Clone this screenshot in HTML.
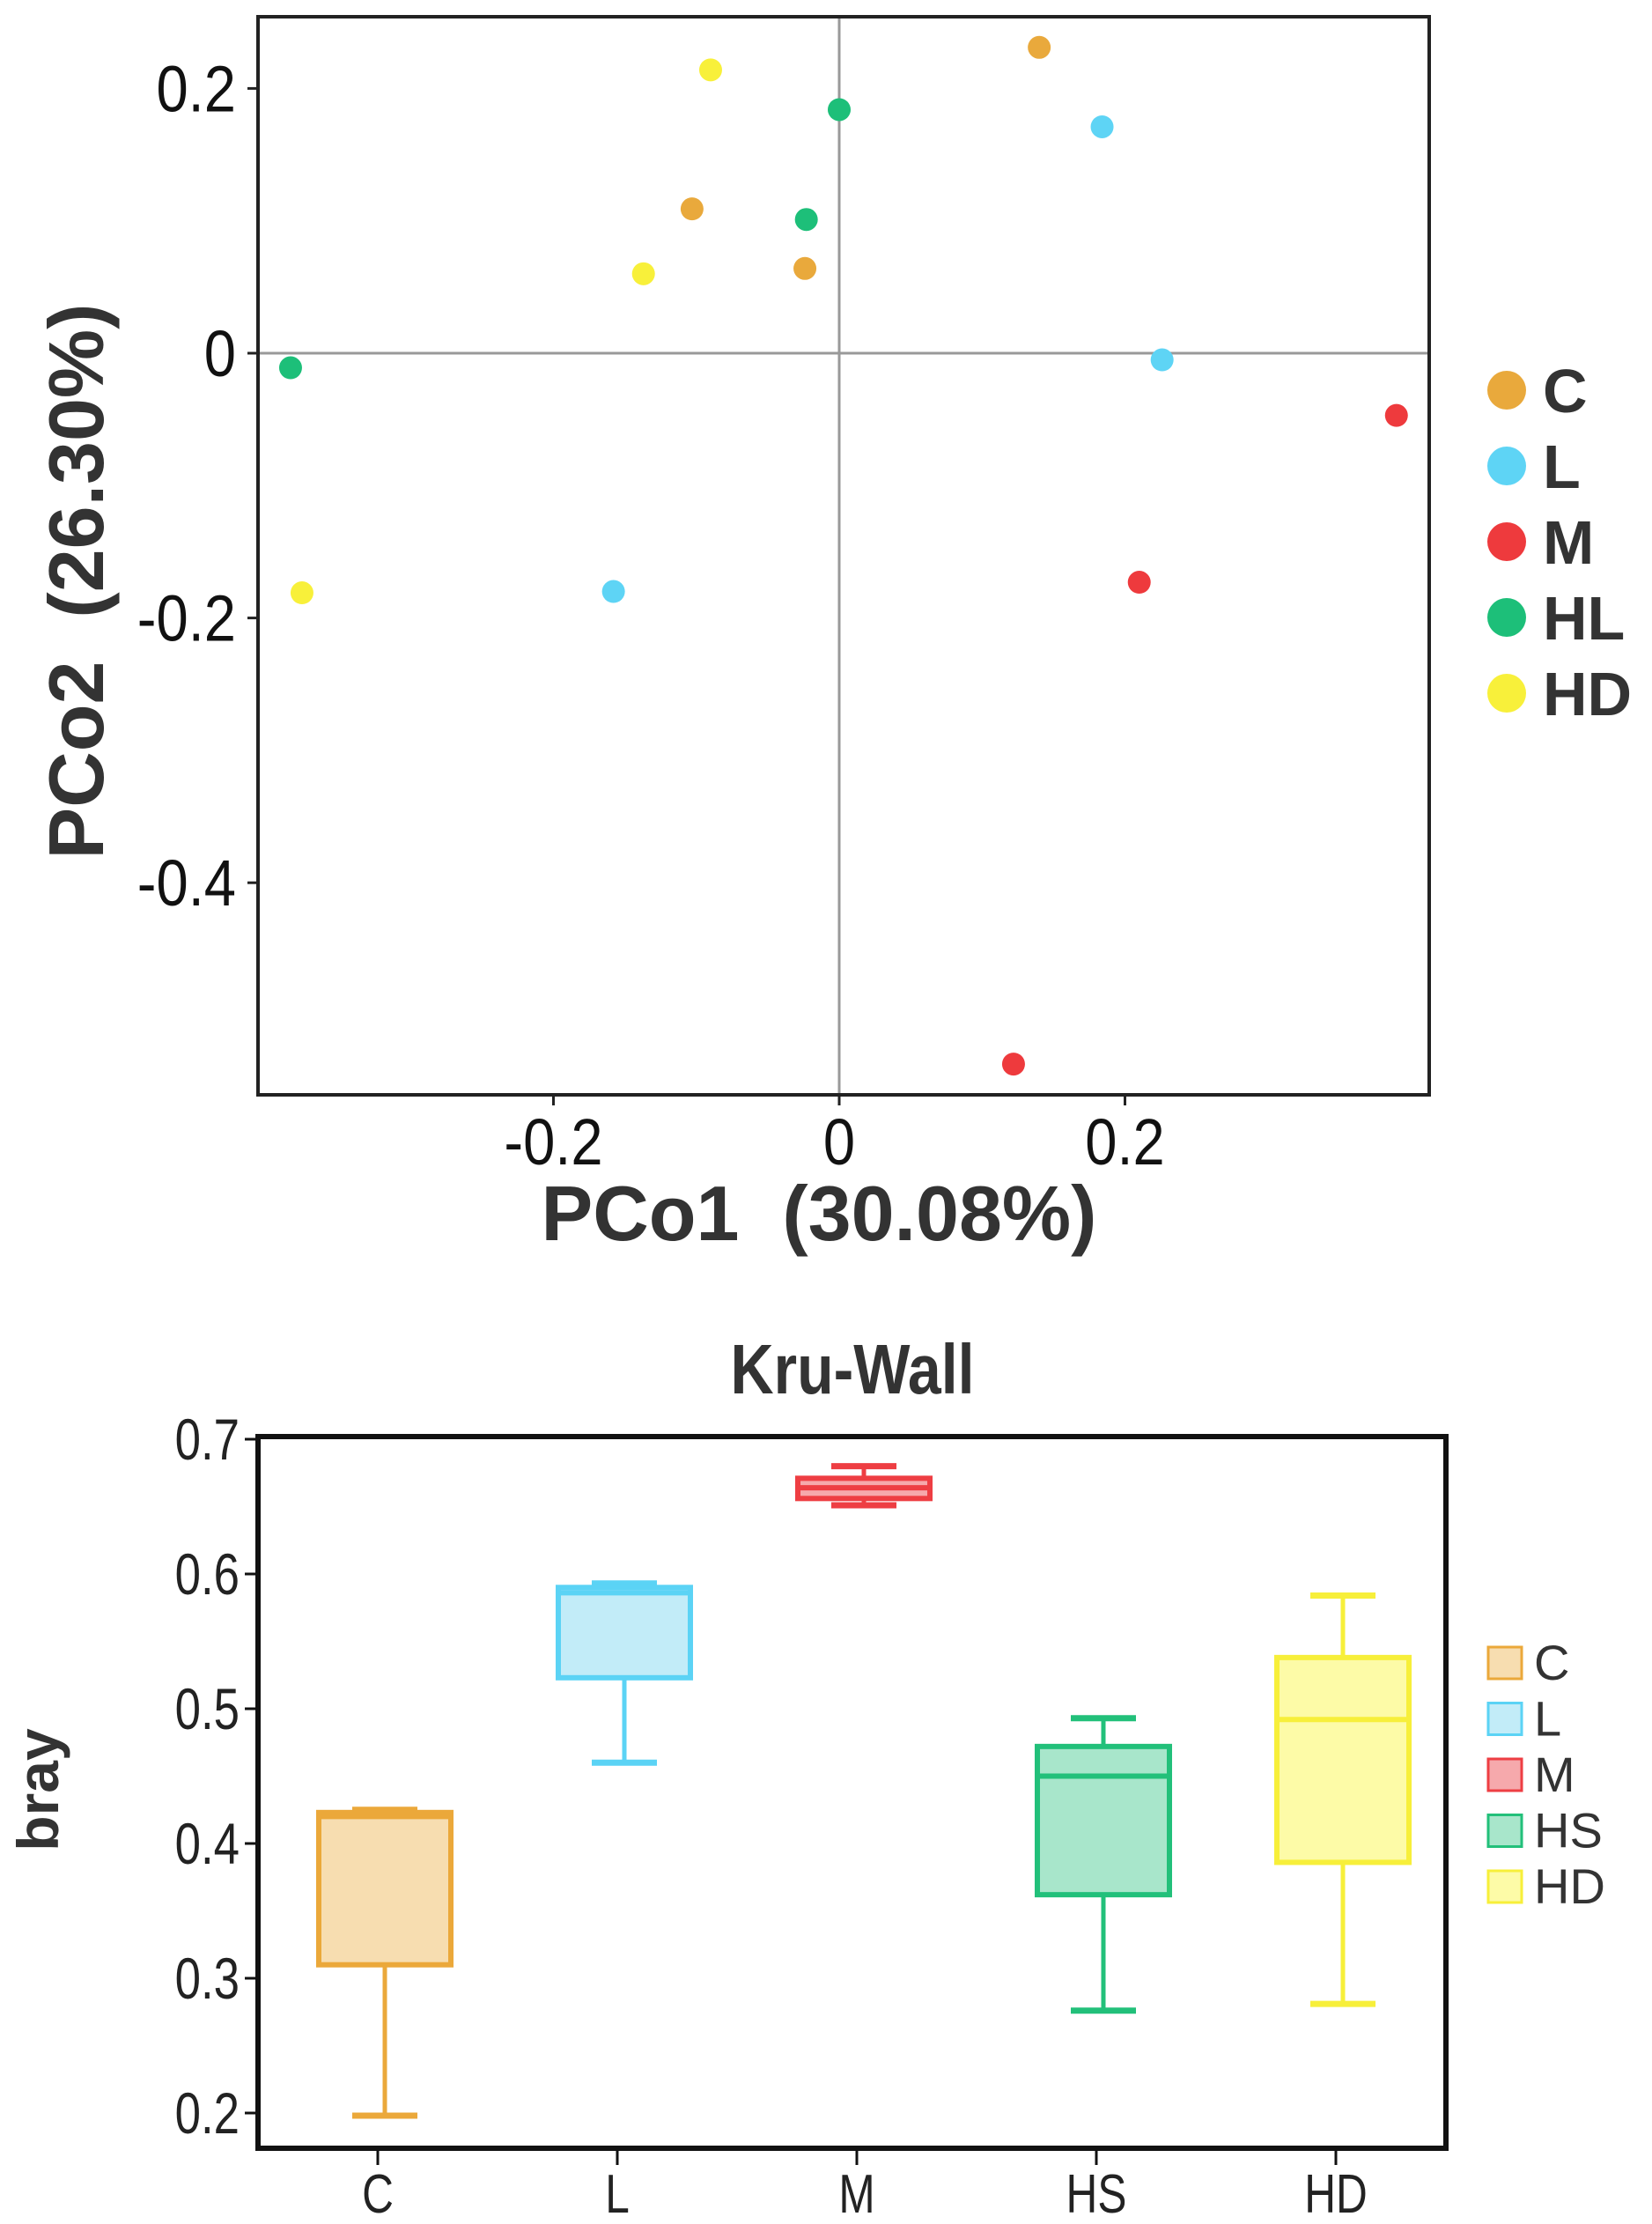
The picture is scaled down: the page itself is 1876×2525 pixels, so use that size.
<!DOCTYPE html>
<html><head><meta charset="utf-8"><style>
html,body{margin:0;padding:0;background:#fff;}
svg{display:block;font-family:"Liberation Sans",sans-serif;}
</style></head><body>
<svg id="fig" width="1876" height="2525" viewBox="0 0 1876 2525">
<g id="pcoa"></g>
<g id="box"></g>
</svg>
<script>
// ---- PCoA data ----
const pcoaGroups = ["C","L","M","HL","HD"];
const pcoaColors = ["#E9A93C","#5ED4F5","#EE3A3D","#1DBF79","#F8F03A"];
const pcoaX = [[0.140,-0.103,-0.024],[0.184,0.226,-0.158],[0.390,0.210,0.122],[0.000,-0.023,-0.384],[-0.090,-0.137,-0.376]];
const pcoaY = [[0.231,0.109,0.064],[0.171,-0.005,-0.180],[-0.047,-0.173,-0.537],[0.184,0.101,-0.011],[0.214,0.060,-0.181]];
const pcoaXTicks = [-0.2,0,0.2];
const pcoaXTickLabels = ["-0.2","0","0.2"];
const pcoaYTicks = [0.2,0,-0.2,-0.4];
const pcoaYTickLabels = ["0.2","0","-0.2","-0.4"];
// ---- Boxplot data ----
const boxCats = ["C","L","M","HS","HD"];
const boxLow = [0.198,0.460,0.651,0.276,0.281];
const boxQ1 = [0.310,0.523,0.656,0.362,0.386];
const boxMed = [0.420,0.586,0.664,0.450,0.492];
const boxQ3 = [0.423,0.590,0.671,0.472,0.538];
const boxHigh = [0.425,0.593,0.680,0.493,0.584];
const boxStroke = ["#EBA83A","#5BD3F5","#EE3E43","#22C07A","#F7EF3A"];
const boxFill = ["#F7DDB0","#C2ECF8","#F6A9AC","#A8E6CB","#FDFBA7"];
const boxYTicks = [0.2,0.3,0.4,0.5,0.6,0.7];
const boxYTickLabels = ["0.2","0.3","0.4","0.5","0.6","0.7"];

const NS="http://www.w3.org/2000/svg";
function mk(parent,tag,attrs,text){const e=document.createElementNS(NS,tag);for(const k in attrs)e.setAttribute(k,attrs[k]);if(text!==undefined)e.textContent=text;parent.appendChild(e);return e;}
function ntext(parent,x,y,size,anchor,sx,str,extra){
  const a={x:0,y:0,'font-size':size,'text-anchor':anchor,fill:'#111',transform:`translate(${x},${y}) scale(${sx},1)`};
  for(const k in (extra||{}))a[k]=extra[k];
  return mk(parent,'text',a,str);
}

// PCoA
const P=document.getElementById('pcoa');
const px=v=>953+v*1622.5, py=v=>401-v*1503;
mk(P,'line',{x1:px(0),x2:px(0),y1:19,y2:1243,stroke:'#999','stroke-width':3});
mk(P,'line',{x1:293,x2:1623,y1:py(0),y2:py(0),stroke:'#999','stroke-width':3});
let fr=mk(P,'rect',{x:293,y:19,width:1330,height:1224,fill:'none',stroke:'#222','stroke-width':4});

pcoaXTicks.forEach((t,i)=>{
  mk(P,'line',{x1:px(t),x2:px(t),y1:1243,y2:1255,stroke:'#222','stroke-width':3});
  const e=ntext(P,px(t),1322,74,'middle',0.88,pcoaXTickLabels[i]);
  
});
pcoaYTicks.forEach((t,i)=>{
  mk(P,'line',{x1:281,x2:293,y1:py(t),y2:py(t),stroke:'#222','stroke-width':3});
  const e=ntext(P,268,py(t)+26,74,'end',0.88,pcoaYTickLabels[i]);
  
});
pcoaGroups.forEach((g,gi)=>{
  pcoaX[gi].forEach((xv,j)=>{
    const c=mk(P,'circle',{cx:px(xv),cy:py(pcoaY[gi][j]),r:13,fill:pcoaColors[gi]});
    
  });
  const ly=443+gi*86;
  const lc=mk(P,'circle',{cx:1711,cy:ly,r:22,fill:pcoaColors[gi]});
  
  const lt=mk(P,'text',{x:1752,y:ly+25,'font-size':70,'font-weight':'bold',fill:'#333'},g);
  
});
let xt=mk(P,'text',{x:930,y:1408,'font-size':88,'font-weight':'bold','text-anchor':'middle',fill:'#333'},'PCo1\u00a0\u00a0(30.08%)');

let yt=mk(P,'text',{x:0,y:0,'font-size':88,'font-weight':'bold','text-anchor':'middle',fill:'#333',transform:'translate(117,660) rotate(-90)'},'PCo2\u00a0\u00a0(26.30%)');


// Boxplot
const B=document.getElementById('box');
const tx=i=>429+i*272, by=v=>2399-(v-0.2)*1530;
let ti=ntext(B,968,1582,80,'middle',0.85,'Kru-Wall',{'font-weight':'bold',fill:'#333'});

boxYTicks.forEach((t,i)=>{
  mk(B,'line',{x1:278,x2:293,y1:by(t),y2:by(t),stroke:'#111','stroke-width':3});
  const e=ntext(B,272,by(t)+23,66,'end',0.8,boxYTickLabels[i],{fill:'#222'});
  
});
boxCats.forEach((c,i)=>{
  const x=tx(i)+8,w=150,cw=74,s=boxStroke[i];
  mk(B,'line',{x1:x,x2:x,y1:by(boxLow[i]),y2:by(boxHigh[i]),stroke:s,'stroke-width':5});
  mk(B,'line',{x1:x-cw/2,x2:x+cw/2,y1:by(boxLow[i]),y2:by(boxLow[i]),stroke:s,'stroke-width':7});
  mk(B,'line',{x1:x-cw/2,x2:x+cw/2,y1:by(boxHigh[i]),y2:by(boxHigh[i]),stroke:s,'stroke-width':7});
  const r=mk(B,'rect',{x:x-w/2,y:by(boxQ3[i]),width:w,height:by(boxQ1[i])-by(boxQ3[i]),fill:boxFill[i],stroke:s,'stroke-width':6});
  
  mk(B,'line',{x1:x-w/2,x2:x+w/2,y1:by(boxMed[i]),y2:by(boxMed[i]),stroke:s,'stroke-width':6});
  mk(B,'line',{x1:tx(i),x2:tx(i),y1:2439,y2:2458,stroke:'#111','stroke-width':3});
  const e=ntext(B,tx(i),2512,62,'middle',0.8,c,{fill:'#222'});
  
  const ly=1887+i*63.5;
  const ls=mk(B,'rect',{x:1690,y:ly-17,width:38,height:36,fill:boxFill[i],stroke:s,'stroke-width':3});
  
  const lt=mk(B,'text',{x:1742,y:ly+20,'font-size':56,fill:'#333'},c);
  
});
let bf=mk(B,'rect',{x:293,y:1631,width:1349,height:808,fill:'none',stroke:'#111','stroke-width':6});

let yb=mk(B,'text',{x:0,y:0,'font-size':66,'font-weight':'bold','text-anchor':'middle',fill:'#333',transform:'translate(66,2032) rotate(-90)'},'bray');

</script>
</body></html>
